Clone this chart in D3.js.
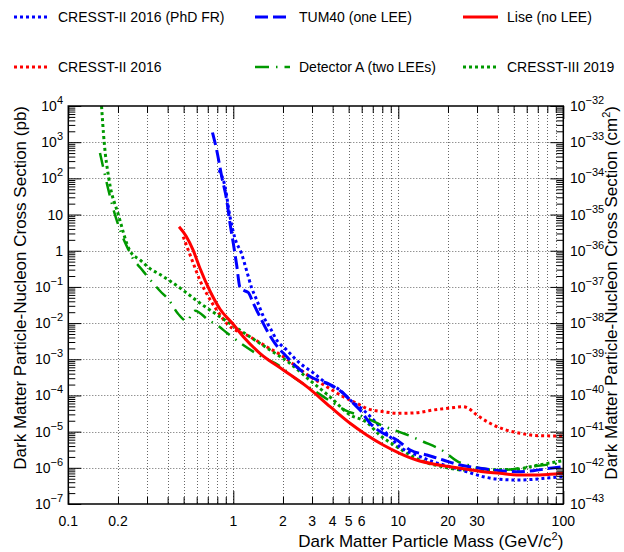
<!DOCTYPE html>
<html>
<head>
<meta charset="utf-8">
<script src="https://cdn.jsdelivr.net/npm/d3@7"></script>
<style>
body { margin: 0; background: #fff; }
text { font-family: "Liberation Sans", Arial, Helvetica, sans-serif; fill: #000; }
</style>
</head>
<body>
<svg id="chart" width="624" height="552"></svg>
<script>
// ---- data (mass in GeV/c^2, cross section in pb) ----
var cresst2PhdMass  = [0.819,0.891,0.955,1.024,1.124,1.206,1.293,1.387,1.525,1.677,1.833,2.107,2.54,3.06,3.68,4.43,5.1,6.14,7.4,8.9,10.2,12.9,16.3,20.6,26.0,32.7,41.3,52.2,65.7,82.9,100];
var cresst2PhdSigma = [170,58.9,8.7,2.18,0.81,0.275,0.093,0.0434,0.015,0.00718,3.4e-3,1.8e-3,7.7e-4,4.17e-4,2.16e-4,1.41e-4,7.5e-5,3.96e-5,1.7e-5,7.2e-6,3.83e-6,2.26e-6,1.47e-6,1.07e-6,7.8e-7,5.68e-7,4.8e-7,4.6e-7,4.8e-7,5.3e-7,5.68e-7];

var tum40Mass  = [0.748,0.793,0.851,0.912,0.955,1.0,1.048,1.098,1.161,1.233,1.322,1.45,1.594,1.789,2.107,2.42,3.06,3.86,4.64,5.33,5.86,6.74,8.1,9.8,11.8,14.9,18.7,23.7,31.3,41.3,52.2,65.7,82.9,100];
var tum40Sigma = [1852,608,111,25.2,5.72,1.6,0.403,0.096,0.0796,0.07,0.0352,0.015,0.00644,2.76e-3,1.18e-3,6.2e-4,2.98e-4,2.0e-4,1.15e-4,6.07e-5,3.96e-5,1.7e-5,9.0e-6,5.87e-6,3.1e-6,2.26e-6,1.64e-6,1.19e-6,9.7e-7,8.3e-7,7.8e-7,8.3e-7,9.7e-7,1.07e-6];

var liseMass  = [0.469,0.517,0.57,0.627,0.722,0.83,0.996,1.15,1.45,2.01,2.79,3.86,5.1,6.43,8.1,10.2,12.9,16.3,20.6,26.0,32.7,41.3,52.2,65.7,82.9,100];
var liseSigma = [4.6,2.55,1.05,0.333,0.077,0.0245,0.0094,0.0042,1.46e-3,5.05e-4,1.75e-4,4.9e-5,1.7e-5,8.07e-6,4.27e-6,2.52e-6,1.64e-6,1.27e-6,1.07e-6,9.1e-7,7.8e-7,7.05e-7,6.3e-7,6.3e-7,6.6e-7,7.05e-7];

var cresst2Mass  = [0.497,0.533,0.572,0.627,0.706,0.793,0.912,1.26,1.594,2.01,2.42,2.92,3.68,4.64,5.6,6.43,8.1,10.2,12.9,16.3,20.6,24.8,26.6,29.9,36.0,43.2,54.7,72.3,100];
var cresst2Sigma = [2.44,1.05,0.449,0.155,0.0536,0.023,0.00986,0.0042,2.22e-3,1.18e-3,6.2e-4,3.3e-4,1.75e-4,9.2e-5,6.07e-5,4.4e-5,3.56e-5,3.2e-5,3.33e-5,3.96e-5,4.5e-5,4.9e-5,4.4e-5,2.88e-5,1.7e-5,1.18e-5,9.0e-6,7.7e-6,7.57e-6];

var detAMass  = [0.1556,0.1646,0.177,0.189,0.198,0.209,0.231,0.248,0.275,0.325,0.36,0.404,0.464,0.52,0.586,0.706,0.811,0.912,1.124,1.486,1.874,2.366,3.06,3.77,4.75,6.14,8.3,11.0,14.2,18.6,23.1,26.6,31.3,43.2,60,100];
var detASigma = [502,160,38.6,12.5,6.3,3.09,1.09,0.58,0.327,0.13,0.077,0.0454,0.0178,0.0115,0.022,0.01217,0.0083,0.00542,0.00264,1.18e-3,6.94e-4,2.98e-4,1.41e-4,7.5e-5,3.96e-5,2.58e-5,1.37e-5,8.6e-6,5.26e-6,2.97e-6,1.47e-6,1.19e-6,9.7e-7,8.7e-7,1.05e-6,1.36e-6];

var cresst3Mass  = [0.159,0.165,0.176,0.201,0.236,0.272,0.313,0.36,0.414,0.476,0.509,0.627,0.83,1.26,1.67,2.19,2.9,3.85,5.1,6.4,7.7,9.8,12.3,14.9,18.6,24.7,31.3,41.4,52.2,65.8,83,100];
var cresst3Sigma = [1e4,1e3,1e2,10,1,0.555,0.32,0.22,0.145,0.093,0.074,0.0359,0.015,0.0042,1.8e-3,7.9e-4,2.67e-4,9.2e-5,2.9e-5,1.85e-5,8.1e-6,3.8e-6,2.03e-6,1.38e-6,1.07e-6,8.7e-7,8.7e-7,8.9e-7,9.1e-7,1.12e-6,1.36e-6,1.57e-6];

var xLabelValues = [0.1,0.2,1,2,3,4,5,6,10,20,30,100];
var yExponents = [4,3,2,1,0,-1,-2,-3,-4,-5,-6,-7];
var rightExponents = [-32,-33,-34,-35,-36,-37,-38,-39,-40,-41,-42,-43];

var svg = d3.select("#chart");
var plotLeft = 68.3, plotRight = 563.3, plotTop = 106, plotBottom = 504;

var x = d3.scaleLog().domain([0.1, 100]).range([plotLeft, plotRight]);
var y = d3.scaleLog().domain([1e-7, 1e4]).range([plotBottom, plotTop]);

var xMajor = [0.1, 1, 10, 100];
var xMinor = [];
[0.1, 1, 10].forEach(function(d){ for (var k = 2; k <= 9; k++) xMinor.push(d * k); });
var yMajor = yExponents.map(function(e){ return Math.pow(10, e); });
var yMinor = [];
for (var e = -7; e < 4; e++) for (var k = 2; k <= 9; k++) yMinor.push(k * Math.pow(10, e));

// grid
var grid = svg.append("g").attr("stroke", "#666").attr("stroke-width", 1).attr("stroke-dasharray", "1,2");
grid.selectAll(".gx").data(xMinor.concat([1, 10])).enter().append("line")
    .attr("x1", function(d){ return Math.round(x(d)) + 0.5; })
    .attr("x2", function(d){ return Math.round(x(d)) + 0.5; })
    .attr("y1", plotTop).attr("y2", plotBottom);
grid.selectAll(".gy").data(yMajor.slice(1, -1)).enter().append("line")
    .attr("y1", function(d){ return Math.round(y(d)) + 0.5; })
    .attr("y2", function(d){ return Math.round(y(d)) + 0.5; })
    .attr("x1", plotLeft).attr("x2", plotRight);

// curves
svg.append("clipPath").attr("id", "clip").append("rect")
    .attr("x", plotLeft).attr("y", plotTop).attr("width", plotRight - plotLeft).attr("height", plotBottom - plotTop);

var series = [
    {mass: cresst2Mass, sigma: cresst2Sigma, color: "#ff0000", dash: "3,3", width: 3},
    {mass: cresst3Mass, sigma: cresst3Sigma, color: "#009900", dash: "3,3", width: 3},
    {mass: cresst2PhdMass, sigma: cresst2PhdSigma, color: "#0000ff", dash: "3,3", width: 3},
    {mass: detAMass, sigma: detASigma, color: "#009900", dash: "14,7,1.5,7", width: 2.5},
    {mass: tum40Mass, sigma: tum40Sigma, color: "#0000ff", dash: "13,5", width: 3},
    {mass: liseMass, sigma: liseSigma, color: "#ff0000", dash: null, width: 3}
];

var line = d3.line()
    .x(function(d){ return x(d[0]); })
    .y(function(d){ return y(d[1]); })
    .curve(d3.curveMonotoneX);

var curves = svg.append("g").attr("clip-path", "url(#clip)");
series.forEach(function(s){
    var pts = s.mass.map(function(m, i){ return [m, s.sigma[i]]; });
    curves.append("path")
        .attr("d", line(pts))
        .attr("fill", "none")
        .attr("stroke", s.color)
        .attr("stroke-width", s.width)
        .attr("stroke-dasharray", s.dash);
});

// axes: ticks inside the frame
function strip(g){ g.select(".domain").remove(); g.selectAll("line").attr("stroke", "#000"); }
svg.append("g").attr("transform", "translate(0," + plotBottom + ")")
    .call(d3.axisBottom(x).tickValues(xMajor).tickSize(-13).tickFormat("")).call(strip);
svg.append("g").attr("transform", "translate(0," + plotBottom + ")")
    .call(d3.axisBottom(x).tickValues(xMinor).tickSize(-7).tickFormat("")).call(strip);
svg.append("g").attr("transform", "translate(0," + plotTop + ")")
    .call(d3.axisTop(x).tickValues(xMajor).tickSize(-13).tickFormat("")).call(strip);
svg.append("g").attr("transform", "translate(0," + plotTop + ")")
    .call(d3.axisTop(x).tickValues(xMinor).tickSize(-7).tickFormat("")).call(strip);
svg.append("g").attr("transform", "translate(" + plotLeft + ",0)")
    .call(d3.axisLeft(y).tickValues(yMajor).tickSize(-13).tickFormat("")).call(strip);
svg.append("g").attr("transform", "translate(" + plotLeft + ",0)")
    .call(d3.axisLeft(y).tickValues(yMinor).tickSize(-7).tickFormat("")).call(strip);
svg.append("g").attr("transform", "translate(" + plotRight + ",0)")
    .call(d3.axisRight(y).tickValues(yMajor).tickSize(-13).tickFormat("")).call(strip);
svg.append("g").attr("transform", "translate(" + plotRight + ",0)")
    .call(d3.axisRight(y).tickValues(yMinor).tickSize(-7).tickFormat("")).call(strip);

svg.append("rect").attr("x", plotLeft).attr("y", plotTop).attr("width", plotRight - plotLeft).attr("height", plotBottom - plotTop)
    .attr("fill", "none").attr("stroke", "#000").attr("stroke-width", 1.5);

// tick labels
svg.selectAll(".xl").data(xLabelValues).enter().append("text")
    .attr("x", function(d){ return x(d); }).attr("y", 526)
    .attr("text-anchor", "middle").attr("font-size", 14)
    .text(function(d){ return String(d); });

function powLabel(sel, e){
    if (e === 1) { sel.text("10"); return; }
    if (e === 0) { sel.text("1"); return; }
    sel.append("tspan").text("10");
    sel.append("tspan").attr("dy", -7).attr("font-size", 11).text(String(e).replace("-", "\u2212"));
}
yExponents.forEach(function(e){
    var t = svg.append("text").attr("x", 63).attr("y", y(Math.pow(10, e)) + 5)
        .attr("text-anchor", "end").attr("font-size", 14);
    powLabel(t, e);
});
rightExponents.forEach(function(e, i){
    var t = svg.append("text").attr("x", 570).attr("y", y(Math.pow(10, yExponents[i])) + 5)
        .attr("font-size", 14);
    powLabel(t, e);
});

// axis titles
var xt = svg.append("text").attr("x", plotRight).attr("y", 547).attr("text-anchor", "end").attr("font-size", 17);
xt.append("tspan").text("Dark Matter Particle Mass (GeV/c");
xt.append("tspan").attr("dy", -7).attr("font-size", 11).text("2");
xt.append("tspan").attr("dy", 7).text(")");

svg.append("text").attr("transform", "translate(26," + plotTop + ") rotate(-90)")
    .attr("text-anchor", "end").attr("font-size", 17)
    .text("Dark Matter Particle-Nucleon Cross Section (pb)");
var rt = svg.append("text").attr("transform", "translate(617," + plotTop + ") rotate(-90)")
    .attr("text-anchor", "end").attr("font-size", 17);
rt.append("tspan").text("Dark Matter Particle-Nucleon Cross Section (cm");
rt.append("tspan").attr("dy", -7).attr("font-size", 11).text("2");
rt.append("tspan").attr("dy", 7).text(")");

// legend
var legendItems = [
    {label: "CRESST-II 2016 (PhD FR)", s: 2, lx: 14, ty: 17},
    {label: "TUM40 (one LEE)", s: 4, lx: 255, ty: 17},
    {label: "Lise (no LEE)", s: 5, lx: 463, ty: 17},
    {label: "CRESST-II 2016", s: 0, lx: 14, ty: 67},
    {label: "Detector A (two LEEs)", s: 3, lx: 255, ty: 67},
    {label: "CRESST-III 2019", s: 1, lx: 463, ty: 67}
];
legendItems.forEach(function(it){
    var s = series[it.s];
    svg.append("line").attr("x1", it.lx).attr("x2", it.lx + 35).attr("y1", it.ty).attr("y2", it.ty)
        .attr("stroke", s.color).attr("stroke-width", s.width).attr("stroke-dasharray", s.dash);
    svg.append("text").attr("x", it.lx + 44).attr("y", it.ty + 5).attr("font-size", 14).text(it.label);
});
</script>
</body>
</html>
